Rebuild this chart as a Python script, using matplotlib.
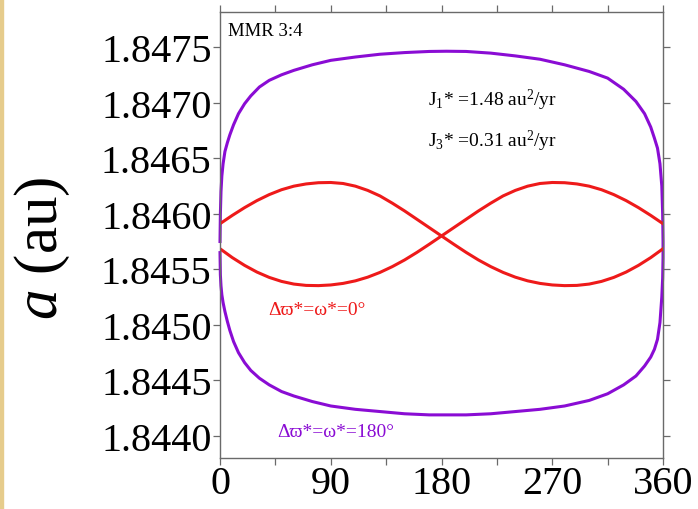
"""Semi-major axis vs resonant angle for MMR 3:4 (two Hamiltonian level curves)."""
import matplotlib
matplotlib.use("Agg")
import matplotlib.pyplot as plt
from matplotlib.patches import Rectangle

# --- data ------------------------------------------------------------------------
# purple (Δϖ*=ω*=180°) closed curve: upper branch and lower branch on the same angles
PUR_X = [0, 0.3, 0.8, 1.5, 2.5, 4, 6, 8, 11, 15, 20, 25, 32, 40, 50, 60, 75, 90, 110,
         130, 150, 170, 184, 200, 220, 240, 260, 280, 300, 315, 328, 338, 345, 350,
         353, 355.5, 357.5, 359, 359.7, 360]
PUR_UP = [1.84575, 1.84600, 1.84620, 1.84634, 1.84645, 1.84656, 1.84664, 1.84671,
          1.84680, 1.84690, 1.84699, 1.84706, 1.84714, 1.84720, 1.84725, 1.84729,
          1.84734, 1.84738, 1.847410, 1.847435, 1.84745, 1.84746, 1.847462, 1.84746,
          1.847445, 1.84742, 1.84739, 1.84734, 1.84728, 1.84722, 1.84712, 1.84701,
          1.84690, 1.84678, 1.84668, 1.84659, 1.84645, 1.84625, 1.84600, 1.84575]
PUR_LO = [1.84565, 1.84545, 1.84535, 1.84527, 1.84520, 1.84512, 1.84503, 1.84495,
          1.84485, 1.84475, 1.84466, 1.84459, 1.84452, 1.84446, 1.84440, 1.84436,
          1.84431, 1.84427, 1.84424, 1.84422, 1.84420, 1.84419, 1.84419, 1.84419,
          1.84420, 1.84422, 1.84424, 1.84427, 1.84432, 1.84438, 1.84446, 1.84454,
          1.84463, 1.84471, 1.84478, 1.84487, 1.84502, 1.84525, 1.84542, 1.84560]

# red (Δϖ*=ω*=0°) two crossing curves
RED_X = list(range(0, 361, 10))
RED_A1 = [1.845910, 1.845985, 1.846055, 1.846118, 1.846172, 1.846216, 1.846248,
          1.846268, 1.846279, 1.846281, 1.846272, 1.846248, 1.846210, 1.846160,
          1.846095, 1.846025, 1.845950, 1.845875, 1.845800, 1.845725, 1.845652,
          1.845584, 1.845524, 1.845472, 1.845429, 1.845396, 1.845373, 1.845359,
          1.845353, 1.845355, 1.845367, 1.845391, 1.845427, 1.845475, 1.845535,
          1.845605, 1.845685]
RED_A2 = [1.845685, 1.845605, 1.845535, 1.845475, 1.845427, 1.845391, 1.845367,
          1.845355, 1.845353, 1.845359, 1.845373, 1.845396, 1.845429, 1.845472,
          1.845524, 1.845584, 1.845652, 1.845725, 1.845800, 1.845875, 1.845950,
          1.846025, 1.846095, 1.846160, 1.846210, 1.846248, 1.846272, 1.846281,
          1.846279, 1.846268, 1.846248, 1.846216, 1.846172, 1.846118, 1.846055,
          1.845985, 1.845910]

X_TICKS = [0, 90, 180, 270, 360]
X_MINOR = [45, 135, 225, 315]
Y_TICKS = [1.8440, 1.8445, 1.8450, 1.8455, 1.8460, 1.8465, 1.8470, 1.8475]

PURPLE = "#8A0CD4"
RED = "#EE1A1A"
SPINE = "#6a6a6a"
SERIF = ["Liberation Serif", "DejaVu Serif"]

plt.rcParams["font.family"] = SERIF
plt.rcParams["mathtext.fontset"] = "custom"
plt.rcParams["mathtext.rm"] = "Liberation Serif"
plt.rcParams["mathtext.it"] = "Liberation Serif:italic"

fig = plt.figure(figsize=(6.98, 5.10), dpi=100)
ax = fig.add_axes([0.3152, 0.1000, 0.6347, 0.8745])

# thin tan strip on the left edge of the page
fig.patches.append(Rectangle((0, 0), 3 / 698, 1, transform=fig.transFigure,
                             color="#E6CC8C", zorder=0))

ax.plot(PUR_X + PUR_X[::-1], PUR_UP + PUR_LO[::-1], color=PURPLE, lw=2.2,
        solid_joinstyle="round", clip_on=False)
ax.plot(RED_X, RED_A1, color=RED, lw=2.2, solid_joinstyle="round")
ax.plot(RED_X, RED_A2, color=RED, lw=2.2, solid_joinstyle="round")

ax.set_xlim(0, 360)
ax.set_ylim(1.843802, 1.847815)
ax.set_xticks(X_TICKS)
ax.set_xticks(X_MINOR, minor=True)
ax.set_yticks(Y_TICKS)
ax.set_yticklabels([f"{v:.4f}" for v in Y_TICKS])

for s in ax.spines.values():
    s.set_color(SPINE)
    s.set_linewidth(1.0)
ax.tick_params(which="both", direction="out", length=5, width=0.9, color=SPINE,
               top=True, right=True, labelsize=29, pad=1)
ax.tick_params(axis="x", pad=0)

ax.set_ylabel(r"$a$ (au)", fontsize=44, va="center")
ax.yaxis.set_label_coords(-0.40, 0.473)

ax.text(0.018, 0.958, "MMR 3:4", transform=ax.transAxes, fontsize=13.5,
        ha="left", va="center")
ax.text(0.4695, 0.805, r"J$_1$* =1.48 au$^2$/yr", transform=ax.transAxes,
        fontsize=14, ha="left", va="center")
ax.text(0.4695, 0.711, r"J$_3$* =0.31 au$^2$/yr", transform=ax.transAxes,
        fontsize=14, ha="left", va="center")
ax.text(0.108, 0.334, "Δϖ*=ω*=0°", transform=ax.transAxes, fontsize=14,
        color=RED, ha="left", va="center", family=SERIF)
ax.text(0.129, 0.0605, "Δϖ*=ω*=180°", transform=ax.transAxes, fontsize=14,
        color=PURPLE, ha="left", va="center", family=SERIF)

fig.savefig("out.png", dpi=100)
